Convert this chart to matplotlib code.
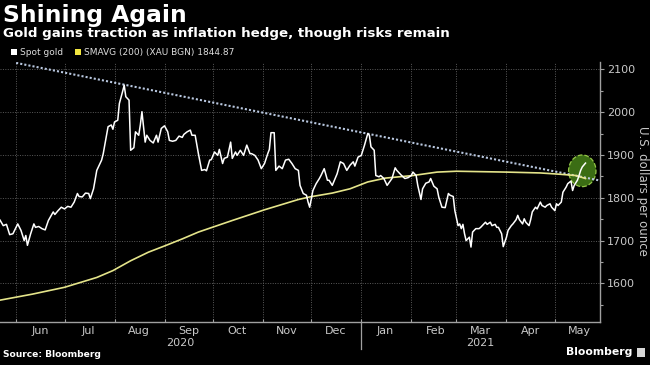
import pandas as pd
import matplotlib.pyplot as plt
import matplotlib.dates as mdates
import matplotlib.transforms as mtransforms
from matplotlib.patches import Patch, Ellipse, Rectangle
from matplotlib.ticker import MultipleLocator

# spot gold
spot_dates = [
    "2020-05-22", "2020-05-24", "2020-05-26", "2020-05-28", "2020-05-30",
    "2020-06-02", "2020-06-04", "2020-06-06", "2020-06-07", "2020-06-08", "2020-06-10", "2020-06-12", "2020-06-13",
    "2020-06-15", "2020-06-17", "2020-06-19", "2020-06-21", "2020-06-24", "2020-06-25", "2020-06-27", "2020-06-29",
    "2020-07-01", "2020-07-03", "2020-07-05", "2020-07-07", "2020-07-09", "2020-07-10", "2020-07-12", "2020-07-14",
    "2020-07-16", "2020-07-17", "2020-07-19", "2020-07-21", "2020-07-24", "2020-07-25", "2020-07-27", "2020-07-28",
    "2020-07-30", "2020-07-31",
    "2020-08-01", "2020-08-03", "2020-08-04", "2020-08-06", "2020-08-07", "2020-08-08", "2020-08-10", "2020-08-11",
    "2020-08-13", "2020-08-14", "2020-08-16", "2020-08-17", "2020-08-18", "2020-08-20", "2020-08-21", "2020-08-23",
    "2020-08-25", "2020-08-27", "2020-08-28", "2020-08-30",
    "2020-09-01", "2020-09-03", "2020-09-04", "2020-09-06", "2020-09-08", "2020-09-10", "2020-09-12", "2020-09-13",
    "2020-09-15", "2020-09-17", "2020-09-18", "2020-09-20", "2020-09-22", "2020-09-24", "2020-09-26", "2020-09-27",
    "2020-09-29", "2020-09-30",
    "2020-10-02", "2020-10-04", "2020-10-05", "2020-10-07", "2020-10-08", "2020-10-10", "2020-10-12", "2020-10-13",
    "2020-10-15", "2020-10-16", "2020-10-18", "2020-10-20", "2020-10-22", "2020-10-24", "2020-10-25", "2020-10-27",
    "2020-10-29", "2020-10-31",
    "2020-11-02", "2020-11-04", "2020-11-05", "2020-11-06", "2020-11-08", "2020-11-09", "2020-11-11", "2020-11-13",
    "2020-11-15", "2020-11-17", "2020-11-19", "2020-11-21", "2020-11-23", "2020-11-24", "2020-11-26", "2020-11-28",
    "2020-11-29", "2020-11-30",
    "2020-12-02", "2020-12-04", "2020-12-06", "2020-12-07", "2020-12-09", "2020-12-11", "2020-12-12", "2020-12-14",
    "2020-12-17", "2020-12-19", "2020-12-21", "2020-12-23", "2020-12-25", "2020-12-27", "2020-12-28", "2020-12-30",
    "2021-01-01", "2021-01-03", "2021-01-05", "2021-01-06", "2021-01-07", "2021-01-09", "2021-01-10", "2021-01-12",
    "2021-01-13", "2021-01-15", "2021-01-17", "2021-01-20", "2021-01-22", "2021-01-23", "2021-01-26", "2021-01-28",
    "2021-01-30",
    "2021-02-01", "2021-02-02", "2021-02-04", "2021-02-05", "2021-02-07", "2021-02-08", "2021-02-10", "2021-02-12",
    "2021-02-13", "2021-02-15", "2021-02-17", "2021-02-18", "2021-02-20", "2021-02-22", "2021-02-24", "2021-02-25",
    "2021-02-27", "2021-02-28",
    "2021-03-02", "2021-03-03", "2021-03-04", "2021-03-05", "2021-03-06", "2021-03-07", "2021-03-09", "2021-03-10",
    "2021-03-11", "2021-03-13", "2021-03-15", "2021-03-16", "2021-03-18", "2021-03-19", "2021-03-20", "2021-03-22",
    "2021-03-23", "2021-03-25", "2021-03-26", "2021-03-27", "2021-03-29", "2021-03-30",
    "2021-04-01", "2021-04-02", "2021-04-04", "2021-04-05", "2021-04-07", "2021-04-08", "2021-04-09", "2021-04-11",
    "2021-04-12", "2021-04-13", "2021-04-15", "2021-04-16", "2021-04-17", "2021-04-19", "2021-04-20", "2021-04-22",
    "2021-04-23", "2021-04-25", "2021-04-26", "2021-04-28", "2021-04-29",
    "2021-05-01", "2021-05-02", "2021-05-03", "2021-05-05", "2021-05-06", "2021-05-08", "2021-05-09", "2021-05-11",
    "2021-05-12", "2021-05-13", "2021-05-15", "2021-05-16", "2021-05-17", "2021-05-18", "2021-05-20",
]
spot_values = [
    1748, 1735, 1738, 1714, 1716,
    1739, 1724, 1700, 1712, 1689, 1716, 1739, 1731, 1733, 1728, 1725, 1747, 1767, 1761, 1770, 1778,
    1774, 1780, 1778, 1790, 1810, 1803, 1802, 1811, 1810, 1798, 1821, 1864, 1888, 1903, 1946, 1966, 1970, 1960,
    1977, 1981, 2020, 2048, 2063, 2036, 2028, 1911, 1917, 1954, 1946, 1970, 2001, 1930, 1946, 1934, 1928, 1946,
    1930, 1962,
    1968, 1954, 1934, 1932, 1934, 1944, 1941, 1948, 1954, 1958, 1946, 1946, 1903, 1864, 1866, 1863, 1888, 1889,
    1907, 1899, 1913, 1880, 1892, 1895, 1930, 1892, 1907, 1899, 1911, 1899, 1923, 1903, 1903, 1899, 1888, 1868,
    1880, 1903, 1913, 1952, 1952, 1864, 1874, 1868, 1888, 1890, 1880, 1868, 1864, 1829, 1810, 1806, 1790, 1778,
    1817, 1833, 1845, 1852, 1868, 1841, 1841, 1829, 1856, 1884, 1880, 1864, 1876, 1884, 1874, 1895,
    1899, 1923, 1950, 1946, 1919, 1911, 1852, 1849, 1852, 1845, 1829, 1845, 1870, 1864, 1852, 1845, 1847,
    1852, 1860, 1852, 1829, 1796, 1821, 1834, 1837, 1845, 1827, 1821, 1802, 1778, 1777, 1810, 1806, 1803, 1770,
    1735, 1739, 1728, 1738, 1716, 1700, 1708, 1685, 1720, 1728, 1728, 1731, 1739, 1743, 1738, 1743, 1735, 1738,
    1731, 1731, 1716, 1686,
    1708, 1724, 1735, 1739, 1749, 1759, 1749, 1739, 1751, 1743, 1735, 1749, 1767, 1778, 1774, 1790, 1782, 1778,
    1782, 1786, 1778,
    1770, 1786, 1782, 1790, 1813, 1825, 1833, 1839, 1817, 1829, 1841, 1852, 1864, 1872, 1881,
]

# 200-day simple moving average
sma_dates = [
    "2020-05-22", "2020-06-11", "2020-07-01", "2020-07-21", "2020-07-31", "2020-08-11", "2020-08-22",
    "2020-09-02", "2020-09-12", "2020-09-22", "2020-10-13", "2020-11-02", "2020-11-23", "2020-11-30",
    "2020-12-14", "2020-12-25", "2021-01-05", "2021-01-16", "2021-02-02", "2021-02-17", "2021-03-01",
    "2021-04-01", "2021-04-22", "2021-05-04", "2021-05-14", "2021-05-20",
]
sma_values = [
    1561, 1575, 1591, 1614, 1630, 1653, 1673, 1689, 1704, 1720, 1747, 1772, 1796, 1802,
    1811, 1821, 1837, 1846, 1852, 1860, 1862, 1860, 1858, 1855, 1852, 1845,
]

# dotted resistance line through the Aug and Jan peaks
trend_dates = ["2020-06-01", "2021-05-28"]
trend_values = [2115, 1841]

year_labels = ["2020", "2021"]
sma_last = 1844.87

BG = "#000000"
GRID = "#5a5a5a"
TICK = "#c8c8c8"
AXIS = "#a0a0a0"

spot_x = pd.to_datetime(spot_dates)
sma_x = pd.to_datetime(sma_dates)
trend_x = pd.to_datetime(trend_dates)

fig = plt.figure(figsize=(6.5, 3.65), dpi=100, facecolor=BG)
ax = fig.add_axes([0.0, 0.1178, 0.9231, 0.7123])
ax.set_facecolor(BG)

ax.plot(trend_x, trend_values, color="#b9c8e0", lw=1.5, linestyle=(0, (1, 1)), zorder=3)
ax.plot(sma_x, sma_values, color="#e4e48a", lw=1.2, zorder=4)
ax.plot(spot_x, spot_values, color="white", lw=1.1, zorder=5)

# highlight circle around the breakout
cx = spot_x[-1] - pd.Timedelta(days=2)
cy = (spot_values[-1] + sma_values[-1]) / 2
circle = Ellipse((mdates.date2num(cx), cy), width=17, height=74,
                 facecolor="#3f7416", edgecolor="#9acd4a", lw=0.9, linestyle="--",
                 alpha=0.95, zorder=2)
ax.add_patch(circle)

ax.set_xlim(pd.Timestamp("2020-05-22"), pd.Timestamp("2021-05-29"))
ax.set_ylim(1510, 2117)

# y axis on the right
ax.yaxis.tick_right()
ax.yaxis.set_major_locator(MultipleLocator(100))
ax.yaxis.set_minor_locator(MultipleLocator(50))
ax.tick_params(axis="y", which="major", direction="out", length=3, width=0.8,
               color=AXIS, labelcolor=TICK, labelsize=8, pad=2)
ax.tick_params(axis="y", which="minor", direction="out", length=2, width=0.8, color=AXIS)
ax.text(1.07, 0.504, "U.S. dollars per ounce", transform=ax.transAxes, rotation=270,
        ha="center", va="center", color=TICK, fontsize=8.5)

# x axis: ticks at month starts, labels mid-month
ax.xaxis.set_major_locator(mdates.MonthLocator())
ax.xaxis.set_major_formatter(plt.NullFormatter())
ax.xaxis.set_minor_locator(mdates.MonthLocator(bymonthday=16))
ax.xaxis.set_minor_formatter(mdates.DateFormatter("%b"))
ax.tick_params(axis="x", which="major", direction="in", length=2.5, width=0.8, color=AXIS)
ax.tick_params(axis="x", which="minor", length=0, labelcolor=TICK, labelsize=8, pad=3)

ax.grid(True, which="major", color=GRID, linestyle=(0, (1, 1.5)), linewidth=0.7)
ax.set_axisbelow(True)

for side in ["left", "top"]:
    ax.spines[side].set_visible(False)
for side in ["right", "bottom"]:
    ax.spines[side].set_color(AXIS)
    ax.spines[side].set_linewidth(1.0)

# year labels and the separator at the year boundary
trans = mtransforms.blended_transform_factory(ax.transData, ax.transAxes)
x0, x1 = ax.get_xlim()
jan1 = mdates.date2num(pd.Timestamp(year_labels[1] + "-01-01"))
ax.text((x0 + jan1) / 2, -0.082, year_labels[0], transform=trans, ha="center", va="center",
        color=TICK, fontsize=8)
ax.text((jan1 + x1) / 2, -0.082, year_labels[1], transform=trans, ha="center", va="center",
        color=TICK, fontsize=8)
ax.plot([jan1, jan1], [0, -0.105], transform=trans, color=AXIS, lw=0.9, clip_on=False)

# legend
handles = [Patch(facecolor="white", edgecolor="none", label="Spot gold"),
           Patch(facecolor="#f2e640", edgecolor="none",
                 label="SMAVG (200) (XAU BGN) %.2f" % sma_last)]
leg = ax.legend(handles=handles, loc="center left", bbox_to_anchor=(0.018, 1.035), ncol=2,
                frameon=False, fontsize=6.5, handlelength=0.65, handleheight=0.65,
                handletextpad=0.35, columnspacing=1.3, borderpad=0, borderaxespad=0)
for t in leg.get_texts():
    t.set_color("#dddddd")

# titles and footer
fig.text(0.005, 0.9397, "Shining Again", color="white", fontsize=16.8, fontweight="bold",
         ha="left", va="baseline")
fig.text(0.005, 0.8986, "Gold gains traction as inflation hedge, though risks remain",
         color="white", fontsize=9.6, fontweight="bold", ha="left", va="baseline")
fig.text(0.005, 0.021, "Source: Bloomberg", color="white", fontsize=6.6, fontweight="bold",
         ha="left", va="baseline")
fig.text(0.973, 0.027, "Bloomberg", color="white", fontsize=7.8, fontweight="bold",
         ha="right", va="baseline")
fig.patches.append(Rectangle((0.980, 0.022), 0.012, 0.024, transform=fig.transFigure,
                             facecolor="#d8d8d8", edgecolor="none"))

fig.savefig("out.png", dpi=100, facecolor=BG)
